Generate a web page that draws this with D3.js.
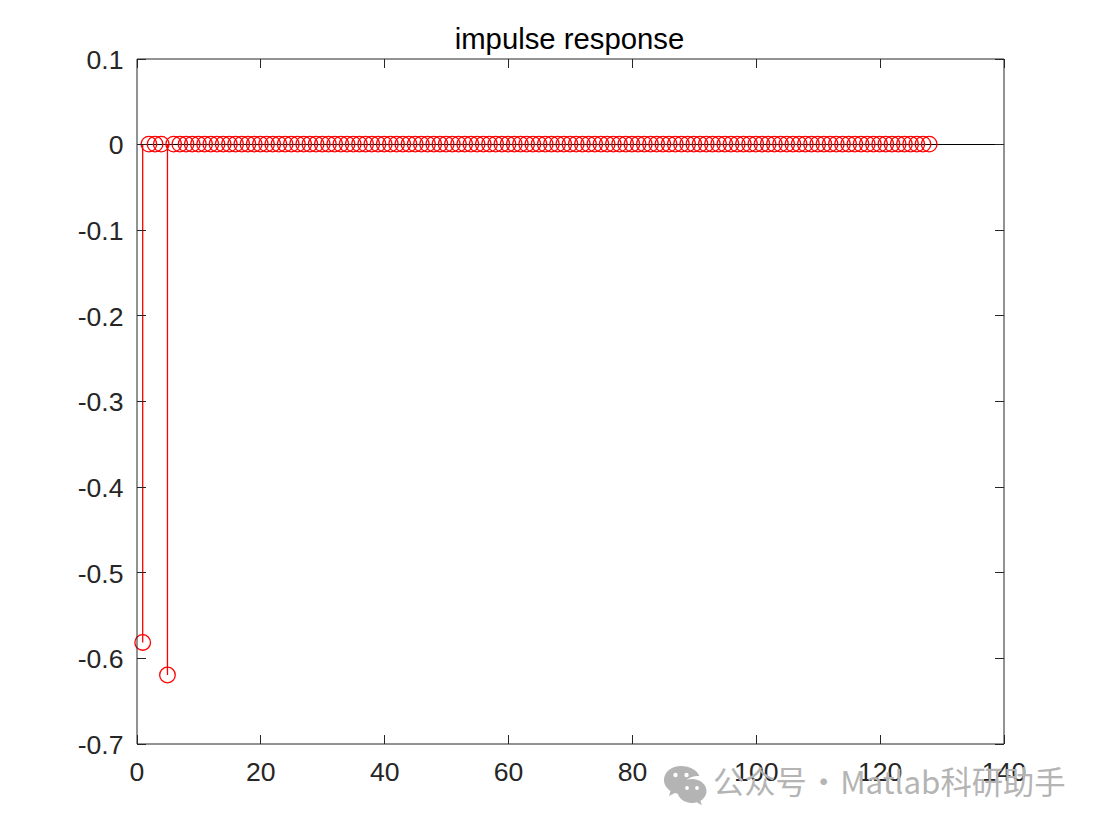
<!DOCTYPE html>
<html><head><meta charset="utf-8">
<script src="https://cdn.jsdelivr.net/npm/d3@7"></script>
<style>html,body{margin:0;padding:0;background:#fff;overflow:hidden}svg{display:block}text{font-family:"Liberation Sans",Arial,sans-serif}</style>
</head><body><svg id="c" width="1102" height="827"></svg>
<script>
const titleText = "impulse response";
const xTicks = [0,20,40,60,80,100,120,140];
const yTicks = [0.1,0,-0.1,-0.2,-0.3,-0.4,-0.5,-0.6,-0.7];
const impulseValues = [
-0.582,0,0,0,-0.62,0,0,0,0,0,0,0,0,0,0,0,
0,0,0,0,0,0,0,0,0,0,0,0,0,0,0,0,
0,0,0,0,0,0,0,0,0,0,0,0,0,0,0,0,
0,0,0,0,0,0,0,0,0,0,0,0,0,0,0,0,
0,0,0,0,0,0,0,0,0,0,0,0,0,0,0,0,
0,0,0,0,0,0,0,0,0,0,0,0,0,0,0,0,
0,0,0,0,0,0,0,0,0,0,0,0,0,0,0,0,
0,0,0,0,0,0,0,0,0,0,0,0,0,0,0,0];
const watermark = "公众号 · Matlab科研助手";

const L=136.5,R=1003.5,T=58.5,B=743.5,TICK=9;
const x=d3.scaleLinear().domain([0,140]).range([L,R]);
const y=d3.scaleLinear().domain([-0.7,0.1]).range([B,T]);
const svg=d3.select("#c");
const axisCol="#262626";

// baseline
svg.append("line").attr("x1",L).attr("x2",R).attr("y1",y(0)).attr("y2",y(0)).attr("stroke","#000").attr("stroke-width",1).attr("shape-rendering","crispEdges");

// stems and markers
const pts=impulseValues.map((v,i)=>({n:i+1,v}));
svg.append("g").selectAll("line").data(pts.filter(d=>d.v!==0)).join("line")
 .attr("x1",d=>x(d.n)).attr("x2",d=>x(d.n)).attr("y1",y(0)).attr("y2",d=>y(d.v))
 .attr("stroke","#f00").attr("stroke-width",1.3);
svg.append("g").selectAll("circle").data(pts).join("circle")
 .attr("cx",d=>x(d.n)).attr("cy",d=>y(d.v)).attr("r",7.8)
 .attr("fill","none").attr("stroke","#f00").attr("stroke-width",1.3);

// box and axes drawn through d3 axes
const mk=(ax,tr)=>{const g=svg.append("g").attr("transform",tr).call(ax);
 g.selectAll("path").attr("stroke",axisCol).attr("stroke-width",1);
 g.selectAll("line").attr("stroke",axisCol).attr("stroke-width",1).attr("shape-rendering","crispEdges");
 return g;};
const fmt=d=>String(+d.toFixed(1));
const bottom=mk(d3.axisBottom(x).tickValues(xTicks).tickFormat(fmt).tickSizeInner(-TICK).tickSizeOuter(0).tickPadding(19),`translate(0,${B})`);
const left=mk(d3.axisLeft(y).tickValues(yTicks).tickFormat(fmt).tickSizeInner(-TICK).tickSizeOuter(0).tickPadding(13),`translate(${L},0)`);
mk(d3.axisTop(x).tickValues(xTicks).tickFormat("").tickSizeInner(-TICK).tickSizeOuter(0),`translate(0,${T})`);
mk(d3.axisRight(y).tickValues(yTicks).tickFormat("").tickSizeInner(-TICK).tickSizeOuter(0),`translate(${R},0)`);
[bottom,left].forEach(g=>g.selectAll("text").attr("fill",axisCol).style("font-size","26.6px").style("font-family",'"Liberation Sans",Arial,sans-serif'));
left.selectAll("text").attr("dy","0.37em");

svg.append("text").attr("x",569.5).attr("y",49).attr("text-anchor","middle").attr("fill","#000").style("font-size","29.3px").text(titleText);

// watermark
const wm=svg.append("g").attr("fill","#b4b4b4");
wm.append("path").attr("d","M681 766c-9.500 0-17 6-17 14 0 4.500 2.500 8.500 6.500 11l-1.500 5 6-3c2 .6 4 .9 6 .9 .7 0 1.300 0 1.900-.1-.5-1.400-.7-2.900-.7-4.300 0-7.500 7-13.500 15.500-13.500h1.600C697.500 770.500 690 766 681 766z");
wm.append("path").attr("d","M692 779c-8 0-14.500 5.300-14.500 12s6.500 12 14.500 12c1.700 0 3.300-.2 4.800-.7l5 3-1.300-4.500c3.700-2.200 6-5.700 6-9.800 0-6.700-6.500-12-14.500-12z");
[[675.5,775],[686.5,775],[687,788],[697,788]].forEach((p,i)=>wm.append("circle").attr("cx",p[0]).attr("cy",p[1]).attr("r",i<2?2.2:1.9).attr("fill","#fff"));
svg.append("text").attr("x",713).attr("y",794).attr("fill","#b4b4b4")
 .style("font-family",'"Noto Sans CJK SC","Noto Sans",sans-serif').style("font-size","31.3px").style("word-spacing","-6px").text(watermark);
</script></body></html>
